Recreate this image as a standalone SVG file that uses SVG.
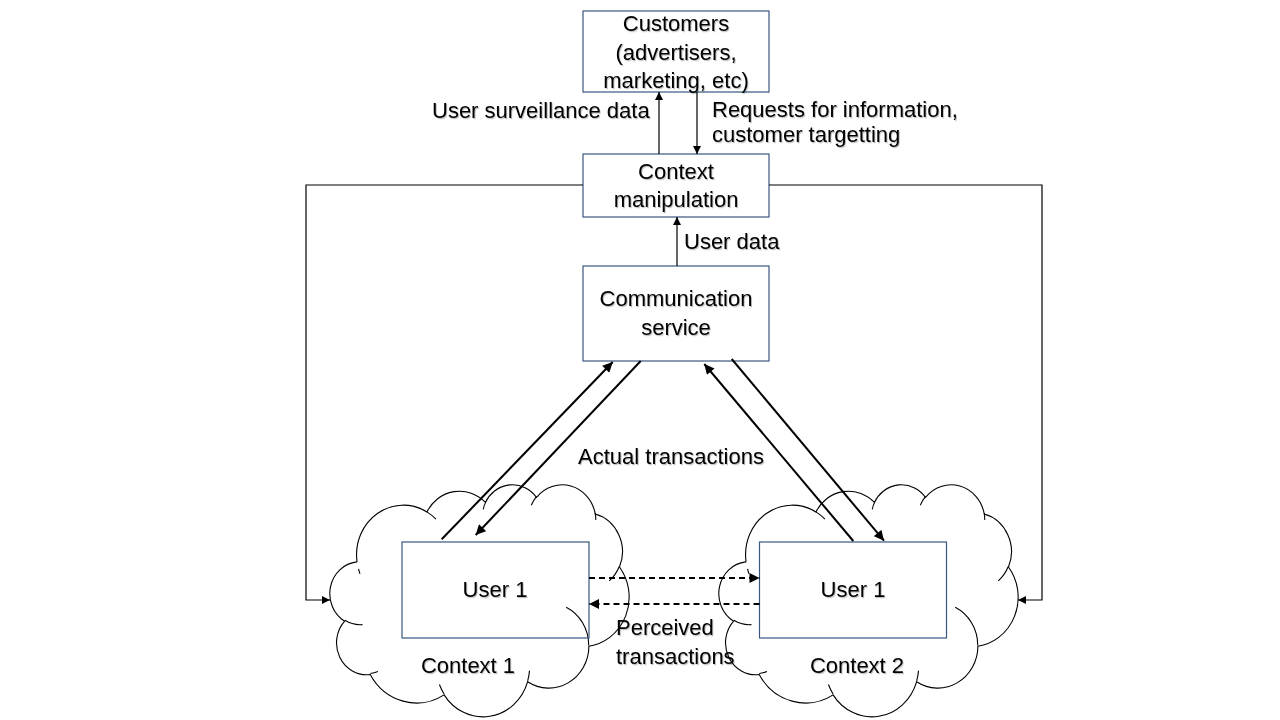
<svg xmlns="http://www.w3.org/2000/svg" width="1280" height="720" viewBox="0 0 1280 720">
<defs>
<style>
.box{fill:none;stroke:#3A5680;stroke-width:1.2}
.t{font-family:"Liberation Sans",Arial,sans-serif;font-size:22px;fill:#000;filter:url(#sh)}
.m{text-anchor:middle}
.thin{fill:none;stroke:#000;stroke-width:1.2}
.thick{fill:none;stroke:#000;stroke-width:2}
.dash{fill:none;stroke:#000;stroke-width:2;stroke-dasharray:6 4}
.cl{fill:#fff;stroke:#000;stroke-width:1.1;vector-effect:non-scaling-stroke}
.cli{fill:none;stroke:#000;stroke-width:1.1;vector-effect:non-scaling-stroke}
</style>
<filter id="sh" x="-5%" y="-20%" width="110%" height="150%">
<feDropShadow dx="1" dy="1.2" stdDeviation="0.7" flood-color="#000" flood-opacity="0.25"/>
</filter>
<marker id="a1" viewBox="0 0 10 10" refX="10" refY="5" markerWidth="8" markerHeight="8" markerUnits="userSpaceOnUse" orient="auto"><path d="M0,0 L10,5 L0,10 z" fill="#000"/></marker>
<marker id="a2" viewBox="0 0 10 10" refX="10" refY="5" markerWidth="11" markerHeight="10" markerUnits="userSpaceOnUse" orient="auto"><path d="M0,0 L10,5 L0,10 z" fill="#000"/></marker>
<path id="cloudOuter" class="cl" vector-effect="non-scaling-stroke" d="M3900,14370 A6753,9190 0 0 1 14004.7,5201.7 A5333,7267 0 0 1 22458.8,3434.6 A4365,5945 0 0 1 29835.9,2483.4 A4857,6595 0 0 1 38321.3,5578.3 A5333,7273 0 0 1 41822.1,15461 A6775,9220 0 0 1 37407.4,30202.8 A5785,7867 0 0 1 28558.9,36812.9 A6752,9215 0 0 1 16484.6,39267.6 A7720,10543 0 0 1 5809.1,35472.5 A4360,5918 0 0 1 2118.2,25550.3 A4345,5945 0 0 1 3868,14506.6 Z"/>
<path id="cloudInner" class="cli" vector-effect="non-scaling-stroke" d="M4693,26177 A4345,5945 0 0 1 2159.4,25379.7 M6928,34899 A4360,5918 0 0 1 5819.5,35280.5 M16478,39090 A6752,9215 0 0 1 15808.9,37346.7 M28827,34751 A6752,9215 0 0 1 28560.5,36659.6 M34129,22954 A5785,7867 0 0 1 37380.7,30089.9 M41798,15354 A5333,7273 0 0 1 40349.4,18031.3 M38324,5426 A4857,6595 0 0 1 38400.4,6689.5 M29078,3952 A4857,6595 0 0 1 29819.4,2340.9 M22141,4720 A4365,5945 0 0 1 22500.2,3329.9 M14000,5192 A6753,9190 0 0 1 15300.8,6541.5 M4127,15789 A6753,9190 0 0 0 4331.3,16730.1"/>
</defs>
<rect width="1280" height="720" fill="#fff"/>

<g id="context1">
<g transform="translate(330,484) scale(0.0069213,0.0053704)">
<use href="#cloudOuter"/>
<use href="#cloudInner"/>
</g>
<text class="t m" x="468" y="673">Context 1</text>
</g>

<g id="context2">
<g transform="translate(719,484) scale(0.0069213,0.0053704)">
<use href="#cloudOuter"/>
<use href="#cloudInner"/>
</g>
<text class="t m" x="857" y="673">Context 2</text>
</g>

<g id="customers">
<rect class="box" x="583" y="11" width="186" height="81"/>
<text class="t m" x="676" y="31">Customers</text>
<text class="t m" x="676" y="60">(advertisers,</text>
<text class="t m" x="676" y="88">marketing, etc)</text>
</g>

<g id="context-manipulation">
<rect class="box" x="583" y="154" width="186" height="63"/>
<text class="t m" x="676" y="179">Context</text>
<text class="t m" x="676" y="207">manipulation</text>
</g>

<g id="communication-service">
<rect class="box" x="583" y="266" width="186" height="95"/>
<text class="t m" x="676" y="306">Communication</text>
<text class="t m" x="676" y="335">service</text>
</g>

<g id="user1-left">
<rect class="box" x="402" y="542" width="187" height="96"/>
<text class="t m" x="495" y="597">User 1</text>
</g>

<g id="user1-right">
<rect class="box" x="759.5" y="542" width="187" height="96"/>
<text class="t m" x="853" y="597">User 1</text>
</g>

<g id="connectors">
<line class="thin" x1="659" y1="154" x2="659" y2="92" marker-end="url(#a1)"/>
<line class="thin" x1="697" y1="92" x2="697" y2="154" marker-end="url(#a1)"/>
<line class="thin" x1="677" y1="266" x2="677" y2="217" marker-end="url(#a1)"/>
<polyline class="thin" points="583,185 306,185 306,600 330,600" marker-end="url(#a1)"/>
<polyline class="thin" points="769,185 1042,185 1042,600 1018,600" marker-end="url(#a1)"/>
<line class="thick" x1="441.7" y1="539.3" x2="612.7" y2="362" marker-end="url(#a2)"/>
<line class="thick" x1="640.7" y1="361" x2="475.7" y2="535" marker-end="url(#a2)"/>
<line class="thick" x1="853.3" y1="541" x2="704.3" y2="364" marker-end="url(#a2)"/>
<line class="thick" x1="731.7" y1="359" x2="884" y2="540.7" marker-end="url(#a2)"/>
<line class="dash" x1="589" y1="578" x2="759.5" y2="578" marker-end="url(#a2)"/>
<line class="dash" x1="759.5" y1="604" x2="589" y2="604" marker-end="url(#a2)"/>
</g>

<g id="labels">
<text class="t" x="432" y="118">User surveillance data</text>
<text class="t" x="712" y="117">Requests for information,</text>
<text class="t" x="712" y="142">customer targetting</text>
<text class="t" x="684" y="249">User data</text>
<text class="t m" x="671" y="464">Actual transactions</text>
<text class="t" x="616" y="635">Perceived</text>
<text class="t" x="616" y="664">transactions</text>
</g>
</svg>
